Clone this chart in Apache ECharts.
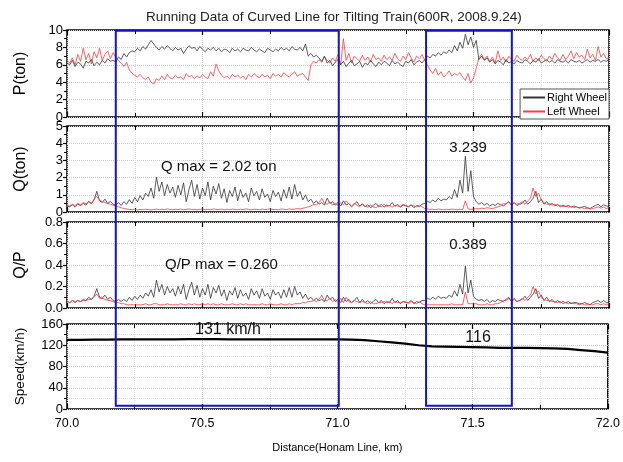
<!DOCTYPE html>
<html>
<head>
<meta charset="utf-8">
<script src="https://cdn.jsdelivr.net/npm/echarts@6/dist/echarts.min.js"></script>
<style>
html, body { margin: 0; padding: 0; background: #fff; }
#main { width: 623px; height: 462px; }
</style>
</head>
<body>
<div id="main"></div>
<script>
// distance sampling of the wheel load records (km)
var X0 = 70.0, STEP = 0.01;

// P (ton), one row = 0.1 km
var pRight = [
  6.2, 6.0, 6.5, 5.8, 6.3, 6.1, 5.6, 6.4, 6.2, 6.6,
  5.9, 6.3, 6.0, 6.5, 6.2, 6.7, 6.4, 6.5, 6.3, 6.9,
  6.6, 7.3, 6.9, 7.4, 7.6, 7.5, 7.9, 7.6, 8.1, 7.8,
  8.3, 8.8, 8.4, 8.0, 7.7, 8.1, 7.8, 8.2, 7.9, 7.6,
  8.0, 7.7, 7.9, 7.3, 7.8, 8.2, 7.9, 8.0, 7.6, 8.1,
  7.8, 7.5, 7.9, 7.7, 8.0, 7.6, 7.9, 7.5, 7.8, 7.7,
  7.4, 7.9, 7.6, 7.8, 7.5, 7.9, 7.7, 7.6, 8.0, 7.7,
  7.5, 7.8, 7.6, 7.4, 7.9, 7.7, 7.5, 7.8, 7.6, 8.0,
  7.7, 7.9, 7.6, 8.1, 7.8, 7.7, 8.0, 7.6, 8.4, 7.0,
  7.3, 6.9, 7.1, 6.8, 6.4, 7.0, 6.2, 6.5, 5.9, 6.3,
  6.6, 6.0, 6.4, 5.8, 6.2, 6.5, 5.9, 6.1, 6.4, 5.7,
  6.2, 6.0, 6.5, 6.1, 5.8, 6.3, 6.0, 6.4, 6.2, 5.9,
  6.5, 6.1, 6.3, 6.0, 5.8, 6.4, 6.2, 6.6, 6.0, 6.3,
  6.5, 6.2, 6.6, 7.0, 6.8, 7.2, 7.0, 7.4, 7.1, 7.5,
  7.3, 7.7, 7.4, 8.2, 7.6, 8.6, 7.9, 9.5, 8.3, 9.2,
  8.0, 8.8, 6.6, 7.0, 6.5, 6.8, 6.3, 6.6, 6.1, 6.5,
  6.3, 6.0, 6.6, 6.2, 6.4, 6.1, 6.5, 6.3, 6.2, 6.6,
  6.4, 6.1, 6.5, 6.3, 6.7, 6.2, 6.4, 6.6, 6.3, 6.5,
  6.2, 6.6, 6.4, 6.3, 6.5, 6.2, 6.6, 6.4, 6.3, 6.5,
  6.2, 6.4, 6.6, 6.3, 6.5, 6.4, 6.6, 6.3, 6.5, 6.4,
  6.6
];
var pLeft = [
  6.5, 6.2, 6.8, 6.0, 7.2, 6.4, 7.9, 6.6, 7.3, 6.1,
  7.5, 6.8, 7.9, 6.5, 7.2, 7.6, 6.7, 7.4, 6.9, 6.5,
  6.2, 5.8, 6.3, 5.4, 5.0, 4.8, 4.6, 4.9, 4.5, 4.3,
  4.6, 4.0, 3.8, 4.4, 4.2, 4.7, 4.3, 4.9, 4.5, 4.4,
  4.8, 4.5, 4.6, 4.3, 5.0, 4.6, 4.8, 4.4, 4.7, 4.5,
  4.9, 4.6, 4.4, 5.2, 4.7, 6.1, 5.3, 4.8, 4.5, 4.7,
  4.4, 4.9, 4.6, 4.8, 4.5, 4.7, 4.3, 4.9, 4.6, 5.0,
  4.7, 4.5, 4.9, 4.6, 4.8, 4.4, 5.0, 4.7, 4.9, 4.6,
  5.1, 4.8, 4.6, 4.9, 5.2, 4.7, 4.9, 5.0, 4.6, 4.2,
  6.0, 6.4, 6.2, 6.6, 6.3, 6.9, 6.5, 6.2, 6.8, 6.4,
  7.2, 6.0, 9.0, 6.5, 7.3, 6.2, 7.0, 6.7, 6.4, 7.1,
  6.5, 6.9, 6.3, 7.2, 6.6, 6.8, 6.4, 7.1, 6.6, 6.9,
  6.5, 7.3, 6.7, 6.4, 7.0, 6.6, 7.4, 6.8, 6.3, 7.0,
  6.7, 7.2, 6.5, 6.0, 5.4, 5.0, 5.6, 4.8, 5.2, 4.6,
  4.9, 5.3, 4.7, 5.0, 4.8, 5.1, 4.6, 4.2, 5.0, 3.9,
  4.5, 5.6, 6.8, 7.2, 6.6, 7.0, 6.4, 6.9, 6.2, 7.6,
  6.5, 6.9, 6.3, 7.0, 6.6, 6.4, 7.1, 6.7, 6.5, 6.9,
  6.6, 7.2, 6.4, 6.8, 6.5, 7.1, 6.7, 6.4, 7.0, 6.6,
  7.3, 6.8, 6.5, 7.2, 6.6, 7.0, 7.6, 6.7, 7.4, 6.9,
  7.1, 6.6, 7.8, 6.8, 7.2, 6.5, 8.1, 6.9, 7.3, 6.7,
  6.8
];

// Q (ton)
var qRight = [
  0.35, 0.30, 0.42, 0.28, 0.45, 0.38, 0.50, 0.40, 0.62, 0.48,
  0.70, 1.20, 0.65, 0.55, 0.75, 0.50, 0.62, 0.45, 0.40, 0.55,
  0.38, 0.60, 0.45, 0.72, 0.50, 0.85, 0.60, 0.95, 0.70, 1.10,
  0.90, 1.40, 0.80, 2.02, 1.20, 1.75, 0.95, 1.60, 1.10, 1.45,
  0.85, 1.55, 1.00, 1.70, 0.60, 1.30, 1.85, 0.90, 1.60, 0.75,
  1.40, 0.95, 1.75, 0.70, 1.50, 1.05, 1.65, 0.80, 1.35, 0.55,
  1.25, 0.90, 1.45, 0.65, 1.30, 0.85, 1.10, 0.60, 1.40, 0.95,
  1.20, 0.70, 1.35, 0.85, 1.05, 0.60, 1.25, 0.90, 1.15, 0.65,
  1.30, 0.80, 1.45, 0.75, 1.60, 0.90, 1.20, 0.70, 1.00, 0.60,
  0.75, 0.50, 0.65, 0.45, 0.55, 0.40, 0.80, 0.50, 0.60, 0.40,
  0.55, 0.35, 0.65, 0.40, 0.50, 0.30, 0.45, 0.60, 0.35, 0.48,
  0.30, 0.42, 0.25, 0.38, 0.50, 0.30, 0.45, 0.28, 0.40, 0.35,
  0.55, 0.32, 0.45, 0.28, 0.40, 0.35, 0.30, 0.42, 0.25, 0.38,
  0.32, 0.45, 0.50, 0.62, 0.55, 0.70, 0.58, 0.80, 0.65, 0.75,
  0.70, 0.90, 0.75, 1.30, 0.85, 1.85, 1.10, 3.24, 1.20, 2.40,
  0.90, 0.60, 0.45, 0.55, 0.40, 0.50, 0.35, 0.45, 0.38, 0.50,
  0.42, 0.35, 0.48, 0.60, 0.40, 0.55, 0.38, 0.45, 0.50, 0.70,
  0.45, 0.60, 0.80, 1.20, 0.55, 0.75, 0.45, 0.60, 0.40, 0.50,
  0.35, 0.45, 0.30, 0.40, 0.32, 0.38, 0.28, 0.35, 0.30, 0.25,
  0.28, 0.32, 0.25, 0.20, 0.30, 0.38, 0.45, 0.30, 0.42, 0.35,
  0.30
];
var qLeft = [
  0.40, 0.35, 0.45, 0.38, 0.50, 0.42, 0.55, 0.48, 0.60, 0.50,
  0.75, 0.90, 0.70, 0.60, 0.55, 0.50, 0.45, 0.40, 0.35, 0.30,
  0.25, 0.20, 0.18, 0.15, 0.14, 0.16, 0.12, 0.15, 0.13, 0.16,
  0.14, 0.12, 0.15, 0.17, 0.13, 0.16, 0.14, 0.18, 0.15, 0.13,
  0.16, 0.14, 0.17, 0.13, 0.15, 0.18, 0.14, 0.16, 0.13, 0.15,
  0.17, 0.14, 0.16, 0.13, 0.18, 0.15, 0.14, 0.17, 0.13, 0.16,
  0.14, 0.17, 0.15, 0.13, 0.16, 0.14, 0.18, 0.15, 0.13, 0.16,
  0.15, 0.13, 0.17, 0.14, 0.16, 0.18, 0.14, 0.15, 0.13, 0.17,
  0.16, 0.14, 0.18, 0.15, 0.17, 0.20, 0.18, 0.22, 0.25, 0.30,
  0.35, 0.45, 0.40, 0.55, 0.80, 0.50, 0.45, 0.60, 0.40, 0.50,
  0.38, 0.55, 0.42, 0.65, 0.45, 0.35, 0.50, 0.40, 0.30, 0.45,
  0.35, 0.28, 0.40, 0.30, 0.25, 0.35, 0.30, 0.45, 0.32, 0.38,
  0.28, 0.40, 0.35, 0.30, 0.45, 0.38, 0.32, 0.40, 0.35, 0.30,
  0.40, 0.30, 0.20, 0.18, 0.15, 0.16, 0.14, 0.17, 0.15, 0.13,
  0.16, 0.14, 0.17, 0.15, 0.13, 0.16, 0.14, 0.65, 0.18, 0.15,
  0.17, 0.20, 0.18, 0.22, 0.20, 0.25, 0.22, 0.20, 0.25, 0.30,
  0.35, 0.50, 0.45, 0.60, 0.40, 0.55, 0.45, 0.50, 0.60, 0.45,
  0.65, 0.80, 1.40, 0.90, 1.10, 0.70, 0.55, 0.45, 0.50, 0.40,
  0.45, 0.35, 0.40, 0.30, 0.35, 0.28, 0.32, 0.25, 0.30, 0.22,
  0.25, 0.20, 0.22, 0.18, 0.20, 0.25, 0.30, 0.22, 0.28, 0.20,
  0.25
];

// Q/P
var qpRight = [
  0.06, 0.05, 0.07, 0.05, 0.07, 0.06, 0.08, 0.07, 0.10, 0.08,
  0.11, 0.18, 0.10, 0.09, 0.12, 0.08, 0.10, 0.07, 0.06, 0.08,
  0.06, 0.08, 0.06, 0.10, 0.07, 0.11, 0.08, 0.12, 0.09, 0.14,
  0.11, 0.17, 0.10, 0.26, 0.15, 0.22, 0.12, 0.20, 0.14, 0.18,
  0.11, 0.20, 0.13, 0.22, 0.08, 0.17, 0.24, 0.12, 0.21, 0.10,
  0.18, 0.12, 0.22, 0.09, 0.19, 0.14, 0.21, 0.11, 0.17, 0.07,
  0.16, 0.12, 0.19, 0.09, 0.17, 0.11, 0.14, 0.08, 0.18, 0.12,
  0.16, 0.09, 0.18, 0.11, 0.14, 0.08, 0.17, 0.12, 0.15, 0.09,
  0.17, 0.10, 0.19, 0.10, 0.20, 0.12, 0.15, 0.09, 0.13, 0.08,
  0.10, 0.07, 0.09, 0.07, 0.08, 0.06, 0.12, 0.08, 0.10, 0.06,
  0.08, 0.05, 0.10, 0.06, 0.08, 0.05, 0.07, 0.10, 0.05, 0.08,
  0.05, 0.07, 0.04, 0.06, 0.08, 0.05, 0.07, 0.04, 0.06, 0.05,
  0.09, 0.05, 0.07, 0.04, 0.06, 0.05, 0.05, 0.07, 0.04, 0.06,
  0.05, 0.07, 0.07, 0.09, 0.08, 0.10, 0.08, 0.11, 0.09, 0.10,
  0.09, 0.12, 0.10, 0.16, 0.11, 0.22, 0.13, 0.39, 0.14, 0.26,
  0.11, 0.08, 0.07, 0.08, 0.06, 0.08, 0.05, 0.07, 0.06, 0.08,
  0.07, 0.06, 0.08, 0.10, 0.06, 0.09, 0.06, 0.07, 0.08, 0.11,
  0.07, 0.10, 0.13, 0.18, 0.09, 0.12, 0.07, 0.10, 0.06, 0.08,
  0.05, 0.07, 0.05, 0.06, 0.05, 0.06, 0.04, 0.05, 0.05, 0.04,
  0.04, 0.05, 0.04, 0.03, 0.05, 0.06, 0.07, 0.05, 0.07, 0.05,
  0.05
];
var qpLeft = [
  0.06, 0.05, 0.07, 0.06, 0.07, 0.06, 0.07, 0.07, 0.08, 0.08,
  0.10, 0.13, 0.09, 0.09, 0.08, 0.07, 0.07, 0.06, 0.05, 0.05,
  0.04, 0.04, 0.03, 0.03, 0.03, 0.03, 0.03, 0.03, 0.03, 0.04,
  0.03, 0.03, 0.04, 0.04, 0.03, 0.03, 0.03, 0.04, 0.03, 0.03,
  0.03, 0.03, 0.04, 0.03, 0.03, 0.04, 0.03, 0.04, 0.03, 0.03,
  0.04, 0.03, 0.04, 0.03, 0.04, 0.03, 0.03, 0.04, 0.03, 0.03,
  0.03, 0.04, 0.03, 0.03, 0.04, 0.03, 0.04, 0.03, 0.03, 0.03,
  0.03, 0.03, 0.04, 0.03, 0.03, 0.04, 0.03, 0.03, 0.03, 0.04,
  0.03, 0.03, 0.04, 0.03, 0.04, 0.04, 0.04, 0.05, 0.05, 0.06,
  0.06, 0.07, 0.06, 0.08, 0.12, 0.07, 0.07, 0.09, 0.06, 0.08,
  0.05, 0.09, 0.05, 0.10, 0.06, 0.05, 0.07, 0.06, 0.05, 0.06,
  0.05, 0.04, 0.06, 0.04, 0.04, 0.05, 0.05, 0.06, 0.05, 0.06,
  0.04, 0.06, 0.05, 0.05, 0.06, 0.06, 0.04, 0.06, 0.05, 0.04,
  0.06, 0.04, 0.03, 0.03, 0.03, 0.03, 0.03, 0.03, 0.03, 0.03,
  0.03, 0.03, 0.04, 0.03, 0.03, 0.03, 0.03, 0.15, 0.04, 0.04,
  0.04, 0.04, 0.03, 0.03, 0.03, 0.04, 0.03, 0.03, 0.04, 0.04,
  0.05, 0.07, 0.07, 0.09, 0.06, 0.08, 0.06, 0.07, 0.09, 0.07,
  0.10, 0.12, 0.20, 0.13, 0.16, 0.10, 0.08, 0.07, 0.07, 0.06,
  0.06, 0.05, 0.06, 0.04, 0.05, 0.04, 0.05, 0.04, 0.04, 0.03,
  0.04, 0.03, 0.03, 0.03, 0.03, 0.04, 0.04, 0.03, 0.04, 0.03,
  0.04
];

// speed (km/h), every 0.05 km
var SPEED_STEP = 0.05;
var speed = [
  130, 130, 130.5, 130.5, 131, 131, 131, 131, 131, 131.5,
  131.5, 131.5, 131, 131, 131, 131, 131, 131, 131, 131,
  131, 130.5, 129.5, 127.5, 125.5, 123, 120, 118, 117.5, 117,
  116.5, 116, 115, 115, 115, 114.5, 114, 113, 111, 109,
  106
];

// highlighted sections (km)
var boxes = [[70.18, 71.005], [71.325, 71.645]];

var notes = [
  { grid: 1, at: [70.56, 2.65], text: 'Q max = 2.02 ton', size: 15 },
  { grid: 1, at: [71.48, 3.75], text: '3.239', size: 15 },
  { grid: 2, at: [70.57, 0.4], text: 'Q/P max = 0.260', size: 15 },
  { grid: 2, at: [71.48, 0.59], text: '0.389', size: 15 },
  { grid: 3, at: [70.595, 150], text: '131 km/h', size: 16 },
  { grid: 3, at: [71.52, 135], text: '116', size: 16 }
];

var FONT = 'Liberation Sans, Arial, sans-serif';

function pts(arr, step) {
  return arr.map(function (v, i) { return [X0 + i * step, v]; });
}

var chart = echarts.init(document.getElementById('main'));

var grids = [
  { left: 67, right: 14, top: 30, height: 87 },
  { left: 67, right: 14, top: 126, height: 86 },
  { left: 67, right: 14, top: 222, height: 86 },
  { left: 67, right: 14, top: 324, height: 85 }
].map(function (g) {
  g.show = true; g.borderColor = '#000'; g.borderWidth = 1.5; g.backgroundColor = '#fff';
  return g;
});

var xAxes = [];
grids.forEach(function (g, i) {
  ['bottom', 'top'].forEach(function (pos) {
    var last = i === 3 && pos === 'bottom';
    xAxes.push({
      type: 'value', gridIndex: i, position: pos, min: 70, max: 72, interval: 0.5,
      axisLine: { show: false },
      axisTick: { show: true, inside: true, length: 5, lineStyle: { color: '#000', width: 1.2 } },
      minorTick: { show: true, splitNumber: 2, length: 4, lineStyle: { color: '#000', width: 1 } },
      splitLine: { show: pos === 'bottom', lineStyle: { color: '#ccc', type: 'dotted' } },
      minorSplitLine: { show: pos === 'bottom', lineStyle: { color: '#ddd', type: 'dotted' } },
      axisLabel: {
        show: last, color: '#000', fontSize: 12.5, fontFamily: FONT, margin: 8,
        formatter: function (v) { return v.toFixed(1); }
      },
      name: last ? 'Distance(Honam Line, km)' : '',
      nameLocation: 'middle', nameGap: 33,
      nameTextStyle: { color: '#000', fontSize: 11, fontFamily: FONT }
    });
  });
});

var yDefs = [
  { name: 'P(ton)', max: 10, interval: 2, size: 16, dec: 0 },
  { name: 'Q(ton)', max: 5, interval: 1, size: 16, dec: 0 },
  { name: 'Q/P', max: 0.8, interval: 0.2, size: 16, dec: 1 },
  { name: 'Speed(km/h)', max: 160, interval: 40, size: 13.5, dec: 0 }
];
var yAxes = yDefs.map(function (d, i) {
  return {
    type: 'value', gridIndex: i, min: 0, max: d.max, interval: d.interval,
    name: d.name, nameLocation: 'middle', nameGap: i === 3 ? 40 : 38, nameRotate: 90,
    nameTextStyle: { color: '#000', fontSize: d.size, fontFamily: FONT },
    axisLine: { show: false },
    axisTick: { show: true, length: 4, lineStyle: { color: '#000', width: 1.2 } },
    minorTick: { show: true, splitNumber: 2, length: 3, lineStyle: { color: '#000' } },
    splitLine: { show: true, lineStyle: { color: '#ccc', type: 'dotted' } },
    minorSplitLine: { show: i === 3, lineStyle: { color: '#ddd', type: 'dotted' } },
    axisLabel: {
      color: '#000', fontSize: 13, fontFamily: FONT, margin: 4,
      formatter: function (v) { return v.toFixed(d.dec); }
    }
  };
});

function line(name, data, idx, color, width) {
  return {
    name: name, type: 'line', xAxisIndex: idx * 2, yAxisIndex: idx,
    data: data, showSymbol: false, symbol: 'none', silent: true,
    lineStyle: { color: color, width: width }, itemStyle: { color: color }
  };
}

var BLACK = '#333', RED = '#ff3a3a';

chart.setOption({
  animation: false,
  title: {
    text: 'Running Data of Curved Line for Tilting Train(600R, 2008.9.24)',
    left: 141, top: 5,
    textStyle: { fontSize: 13.5, fontWeight: 'normal', color: '#222', fontFamily: FONT }
  },
  legend: {
    data: ['Right Wheel', 'Left Wheel'], orient: 'vertical',
    right: 14, top: 89, itemWidth: 22, itemHeight: 2, itemGap: 3, icon: 'rect',
    padding: [3, 2, 2, 3], backgroundColor: '#fff', borderColor: '#555', borderWidth: 1,
    textStyle: { fontSize: 11, color: '#000', fontFamily: FONT, padding: [0, 0, 0, -3] }
  },
  grid: grids,
  xAxis: xAxes,
  yAxis: yAxes,
  series: [
    line('Left Wheel', pts(pLeft, STEP), 0, RED, 0.8),
    line('Right Wheel', pts(pRight, STEP), 0, BLACK, 0.8),
    line('Right Wheel', pts(qRight, STEP), 1, BLACK, 0.8),
    line('Left Wheel', pts(qLeft, STEP), 1, RED, 0.8),
    line('Right Wheel', pts(qpRight, STEP), 2, BLACK, 0.8),
    line('Left Wheel', pts(qpLeft, STEP), 2, RED, 0.8),
    line('Speed', pts(speed, SPEED_STEP), 3, '#000', 2.2)
  ]
});

// blue section boxes and the value notes, placed through the axes
var gr = [];
boxes.forEach(function (b) {
  var tl = chart.convertToPixel({ gridIndex: 0 }, [b[0], 9.9]);
  var br = chart.convertToPixel({ gridIndex: 3 }, [b[1], 6]);
  gr.push({
    type: 'rect', z: 100, silent: true,
    shape: { x: tl[0], y: tl[1], width: br[0] - tl[0], height: br[1] - tl[1] },
    style: { fill: null, stroke: '#1414c8', lineWidth: 2 }
  });
});
notes.forEach(function (n) {
  var p = chart.convertToPixel({ gridIndex: n.grid }, n.at);
  gr.push({
    type: 'text', z: 101, silent: true, x: p[0], y: p[1],
    style: { text: n.text, fontSize: n.size, fontFamily: FONT, fill: '#111', align: 'center', verticalAlign: 'middle' }
  });
});
chart.setOption({ graphic: gr });
</script>
</body>
</html>
